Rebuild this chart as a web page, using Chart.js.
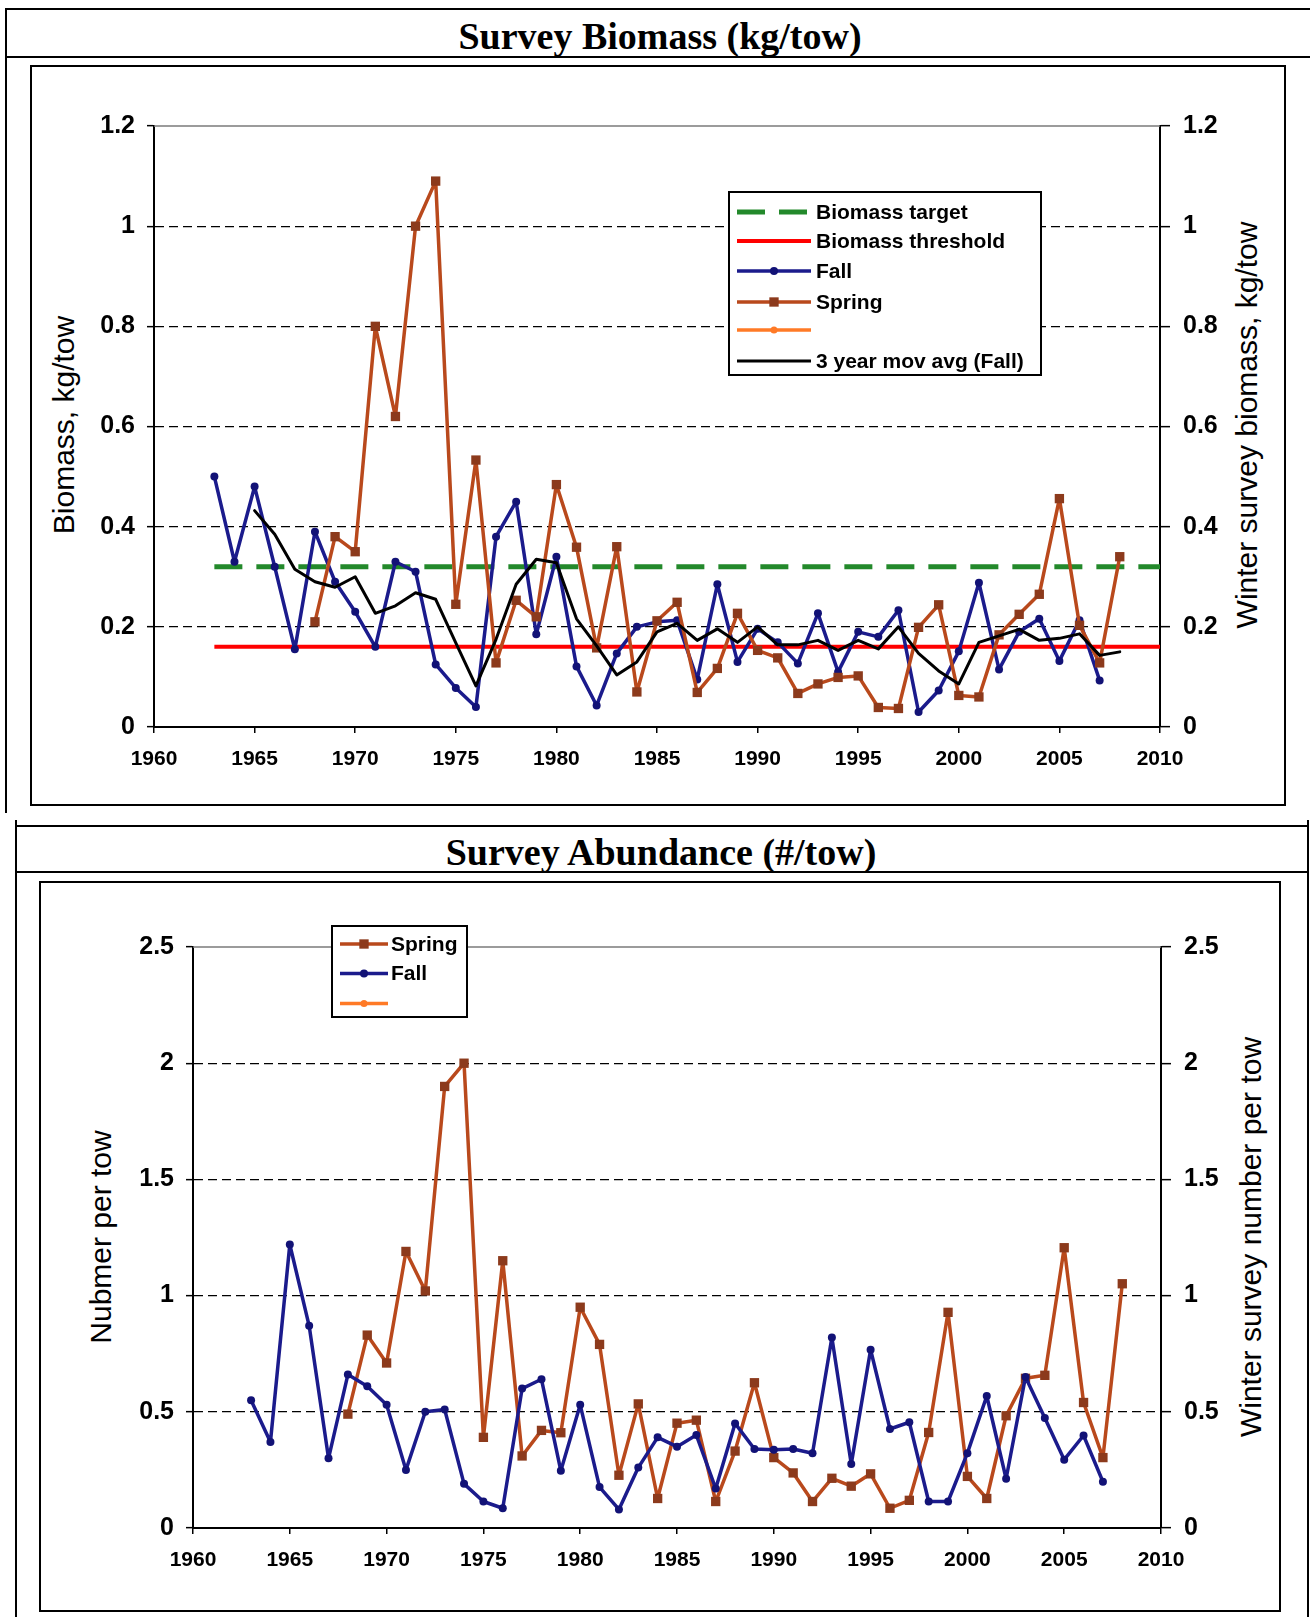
<!DOCTYPE html>
<html>
<head>
<meta charset="utf-8">
<title>Survey Biomass and Abundance</title>
<script src="https://cdn.jsdelivr.net/npm/chart.js@4.4.1/dist/chart.umd.min.js"></script>
<style>
  body { margin: 0; background: #fff; }
  #page { position: relative; width: 1310px; height: 1617px; overflow: hidden; font-family: "Liberation Sans", Arial, sans-serif; }
  .rule { position: absolute; background: #000; }
  .frame { position: absolute; border: 2px solid #000; box-sizing: border-box; }
  .title { position: absolute; font-family: "Liberation Serif", "Times New Roman", serif; font-weight: bold; font-size: 38px; white-space: nowrap; transform: translate(-50%, -50%); }
  .axis-title { position: absolute; font-size: 30px; white-space: nowrap; transform: translate(-50%, -50%) rotate(-90deg); }
  canvas { position: absolute; left: 0; }
</style>
</head>
<body>
<div id="page">
  <!-- top panel -->
  <div class="rule" style="left:5px;top:8px;width:1305px;height:2px"></div>
  <div class="rule" style="left:5px;top:8px;width:2px;height:805px"></div>
  <div class="rule" style="left:5px;top:56px;width:1305px;height:2px"></div>
  <div class="frame" style="left:30px;top:65px;width:1256px;height:741px"></div>
  <div class="title" style="left:660px;top:36px">Survey Biomass (kg/tow)</div>
  <div class="axis-title" style="left:64px;top:425px">Biomass, kg/tow</div>
  <div class="axis-title" style="left:1247px;top:425px">Winter survey biomass, kg/tow</div>

  <!-- bottom panel -->
  <div class="rule" style="left:15px;top:825px;width:1294px;height:2px"></div>
  <div class="rule" style="left:15px;top:820px;width:2px;height:797px"></div>
  <div class="rule" style="left:1307px;top:820px;width:2px;height:797px"></div>
  <div class="rule" style="left:15px;top:871px;width:1294px;height:2px"></div>
  <div class="frame" style="left:39px;top:881px;width:1242px;height:731px"></div>
  <div class="title" style="left:661px;top:852px">Survey Abundance (#/tow)</div>
  <div class="axis-title" style="left:101px;top:1237px">Nubmer per tow</div>
  <div class="axis-title" style="left:1251px;top:1237px">Winter survey number per tow</div>

  <canvas id="biomassChart" width="1310" height="820" style="top:0"></canvas>
  <canvas id="abundanceChart" width="1310" height="797" style="top:820px"></canvas>
</div>

<script>
  "use strict";

  var FONT = "'Liberation Sans', Arial, sans-serif";

  var years = [
    1963, 1964, 1965, 1966, 1967, 1968, 1969, 1970, 1971, 1972,
    1973, 1974, 1975, 1976, 1977, 1978, 1979, 1980, 1981, 1982,
    1983, 1984, 1985, 1986, 1987, 1988, 1989, 1990, 1991, 1992,
    1993, 1994, 1995, 1996, 1997, 1998, 1999, 2000, 2001, 2002,
    2003, 2004, 2005, 2006, 2007, 2008
  ];

  // Survey biomass, kg/tow
  var biomassFall = [
    0.50, 0.33, 0.48, 0.32, 0.155, 0.39, 0.29, 0.23, 0.16, 0.33,
    0.31, 0.125, 0.078, 0.04, 0.38, 0.45, 0.185, 0.34, 0.121, 0.043,
    0.147, 0.20, 0.21, 0.213, 0.095, 0.285, 0.13, 0.196, 0.169, 0.127,
    0.227, 0.11, 0.19, 0.18, 0.233, 0.03, 0.073, 0.151, 0.288, 0.115,
    0.19, 0.216, 0.132, 0.213, 0.093, null
  ];
  var biomassSpring = [
    null, null, null, null, null, 0.21, 0.38, 0.35, 0.80, 0.62,
    1.00, 1.09, 0.245, 0.533, 0.128, 0.253, 0.22, 0.484, 0.359, 0.158,
    0.36, 0.07, 0.212, 0.249, 0.069, 0.117, 0.227, 0.153, 0.138, 0.067,
    0.086, 0.099, 0.102, 0.039, 0.037, 0.199, 0.244, 0.063, 0.06, 0.184,
    0.225, 0.265, 0.456, 0.203, 0.128, 0.34
  ];
  var biomassFallAvg = [
    null, null, 0.432, 0.385, 0.315, 0.29, 0.279, 0.30, 0.227, 0.242,
    0.268, 0.255, 0.168, 0.082, 0.175, 0.285, 0.335, 0.328, 0.216, 0.162,
    0.104, 0.13, 0.19, 0.207, 0.173, 0.196, 0.169, 0.20, 0.164, 0.164,
    0.173, 0.153, 0.173, 0.156, 0.20, 0.147, 0.112, 0.086, 0.169, 0.182,
    0.195, 0.173, 0.177, 0.186, 0.143, 0.15
  ];
  var refYears = [1963, 2010];
  var biomassTarget = [0.32, 0.32];
  var biomassThreshold = [0.16, 0.16];

  // Survey abundance, number per tow
  var abundanceSpring = [
    null, null, null, null, null, 0.49, 0.83, 0.71, 1.19, 1.02,
    1.90, 2.00, 0.39, 1.15, 0.31, 0.42, 0.41, 0.95, 0.79, 0.227,
    0.534, 0.127, 0.451, 0.464, 0.114, 0.331, 0.625, 0.303, 0.237, 0.114,
    0.214, 0.18, 0.233, 0.085, 0.119, 0.411, 0.928, 0.222, 0.127, 0.483,
    0.644, 0.657, 1.206, 0.54, 0.303, 1.051
  ];
  var abundanceFall = [
    0.55, 0.37, 1.22, 0.87, 0.30, 0.66, 0.61, 0.53, 0.25, 0.50,
    0.51, 0.19, 0.114, 0.085, 0.60, 0.64, 0.246, 0.53, 0.176, 0.08,
    0.26, 0.39, 0.35, 0.40, 0.17, 0.45, 0.34, 0.337, 0.34, 0.322,
    0.82, 0.275, 0.767, 0.426, 0.455, 0.114, 0.114, 0.322, 0.568, 0.212,
    0.65, 0.473, 0.294, 0.398, 0.199, null
  ];

  var yearTicks = [1960, 1965, 1970, 1975, 1980, 1985, 1990, 1995, 2000, 2005, 2010];
  var biomassTicks = [0, 0.2, 0.4, 0.6, 0.8, 1, 1.2];
  var abundanceTicks = [0, 0.5, 1, 1.5, 2, 2.5];

  var FALL_LINE = "#1b1b8c";
  var FALL_DOT = "#121276";
  var SPRING_LINE = "#b9491c";
  var SPRING_DOT = "#8c3a1c";
  var ORANGE = "#ff7a26";

  function pairs(xs, ys) {
    return xs.map(function (x, i) {
      return { x: x, y: ys[i] };
    });
  }

  function fixedTicks(list) {
    return function (scale) {
      scale.ticks = list.map(function (v) {
        return { value: v };
      });
    };
  }

  function drawMarker(ctx, ds, x, y) {
    var r = ds.pointRadius || 0;
    if (!r) return;
    ctx.fillStyle = ds.pointBackgroundColor;
    ctx.beginPath();
    if (ds.pointStyle === "rect") {
      var s = r * Math.SQRT1_2;
      ctx.rect(x - s, y - s, 2 * s, 2 * s);
    } else {
      ctx.arc(x, y, r, 0, Math.PI * 2);
    }
    ctx.fill();
  }

  // plot-area top edge plus an Excel-style boxed legend
  var boxLegend = {
    id: "boxLegend",
    afterDraw: function (chart, args, opts) {
      var ctx = chart.ctx;
      var area = chart.chartArea;
      ctx.save();
      ctx.strokeStyle = "#7a7a7a";
      ctx.lineWidth = 1.5;
      ctx.beginPath();
      ctx.moveTo(area.left, area.top);
      ctx.lineTo(area.right, area.top);
      ctx.stroke();

      ctx.fillStyle = "#fff";
      ctx.fillRect(opts.left, opts.top, opts.width, opts.height);
      ctx.strokeStyle = "#000";
      ctx.lineWidth = 2;
      ctx.strokeRect(opts.left, opts.top, opts.width, opts.height);

      ctx.font = "bold 21px " + FONT;
      ctx.textBaseline = "middle";
      opts.rows.forEach(function (row) {
        var ds = chart.data.datasets[row.index];
        ctx.save();
        ctx.strokeStyle = ds.borderColor;
        ctx.lineWidth = ds.borderWidth;
        ctx.setLineDash(ds.borderDash || []);
        ctx.beginPath();
        ctx.moveTo(opts.lineFrom, row.y);
        ctx.lineTo(opts.lineTo, row.y);
        ctx.stroke();
        ctx.restore();
        drawMarker(ctx, ds, (opts.lineFrom + opts.lineTo) / 2, row.y);
        ctx.fillStyle = "#000";
        ctx.fillText(ds.label, opts.textX, row.y + 1);
      });
      ctx.restore();
    }
  };

  function yearAxis() {
    return {
      type: "linear",
      min: 1960,
      max: 2010,
      afterBuildTicks: fixedTicks(yearTicks),
      afterFit: function (scale) { scale.height = 45; },
      ticks: {
        autoSkip: false,
        maxRotation: 0,
        color: "#000",
        padding: 14,
        font: { family: FONT, size: 21, weight: "bold" },
        callback: function (v) { return String(v); }
      },
      grid: { drawOnChartArea: false, drawTicks: true, tickLength: 6, color: "#000", lineWidth: 1.5 },
      border: { color: "#000", width: 2 }
    };
  }

  function valueAxis(position, list, max) {
    var left = position === "left";
    return {
      type: "linear",
      position: position,
      min: 0,
      max: max,
      afterBuildTicks: fixedTicks(list),
      afterFit: function (scale) { scale.width = left ? 60 : 70; },
      ticks: {
        autoSkip: false,
        color: "#000",
        padding: left ? 12 : 13,
        font: { family: FONT, size: 25, weight: "bold" },
        callback: function (v) { return String(Math.round(v * 10) / 10); }
      },
      grid: {
        drawOnChartArea: left,
        drawTicks: true,
        tickLength: left ? 7 : 10,
        tickColor: "#000",
        tickWidth: 1.5,
        lineWidth: 1.3,
        color: function (c) {
          return c.tick && c.tick.value >= max ? "rgba(0,0,0,0)" : "#000";
        }
      },
      border: { color: "#000", width: 2, dash: [9, 5] }
    };
  }

  function lineSeries(label, data, color, width, extra) {
    var ds = {
      label: label,
      data: data,
      borderColor: color,
      borderWidth: width,
      borderJoinStyle: "round",
      borderCapStyle: "round",
      pointRadius: 0,
      pointBorderWidth: 0,
      pointHoverRadius: 0,
      fill: false,
      tension: 0
    };
    Object.keys(extra || {}).forEach(function (k) { ds[k] = extra[k]; });
    return ds;
  }

  function baseOptions(padding, legend, yMax, yTicks) {
    return {
      responsive: false,
      animation: false,
      layout: { padding: padding },
      plugins: {
        legend: { display: false },
        tooltip: { enabled: false },
        boxLegend: legend
      },
      scales: {
        x: yearAxis(),
        y: valueAxis("left", yTicks, yMax),
        y2: valueAxis("right", yTicks, yMax)
      }
    };
  }

  function initBiomassChart() {
    var ctx = document.getElementById("biomassChart").getContext("2d");
    new Chart(ctx, {
      type: "line",
      data: {
        datasets: [
          lineSeries("Biomass target", pairs(refYears, biomassTarget), "#23892b", 5, {
            borderDash: [28, 14], borderCapStyle: "butt", order: 6
          }),
          lineSeries("Biomass threshold", pairs(refYears, biomassThreshold), "#ff0000", 4, { borderCapStyle: "butt", order: 5 }),
          lineSeries("Fall", pairs(years, biomassFall), FALL_LINE, 3.5, {
            pointRadius: 4, pointBackgroundColor: FALL_DOT, pointStyle: "circle", order: 4
          }),
          lineSeries("Spring", pairs(years, biomassSpring), SPRING_LINE, 3.5, {
            pointRadius: 6.6, pointBackgroundColor: SPRING_DOT, pointStyle: "rect", order: 3
          }),
          lineSeries("", [], ORANGE, 3.5, { pointRadius: 3.5, pointBackgroundColor: ORANGE, order: 2 }),
          lineSeries("3 year mov avg (Fall)", pairs(years, biomassFallAvg), "#000", 3, { order: 1 })
        ]
      },
      options: baseOptions(
        { left: 94, right: 80, top: 126, bottom: 48 },
        {
          left: 729, top: 192, width: 312, height: 183,
          lineFrom: 737, lineTo: 811, textX: 816,
          rows: [
            { index: 0, y: 212 }, { index: 1, y: 241 }, { index: 2, y: 271 },
            { index: 3, y: 302 }, { index: 4, y: 330 }, { index: 5, y: 361 }
          ]
        },
        1.2,
        biomassTicks
      ),
      plugins: [boxLegend]
    });
  }

  function initAbundanceChart() {
    var ctx = document.getElementById("abundanceChart").getContext("2d");
    new Chart(ctx, {
      type: "line",
      data: {
        datasets: [
          lineSeries("Spring", pairs(years, abundanceSpring), SPRING_LINE, 3.5, {
            pointRadius: 6.6, pointBackgroundColor: SPRING_DOT, pointStyle: "rect", order: 3
          }),
          lineSeries("Fall", pairs(years, abundanceFall), FALL_LINE, 3.5, {
            pointRadius: 4, pointBackgroundColor: FALL_DOT, pointStyle: "circle", order: 2
          }),
          lineSeries("", [], ORANGE, 3.5, { pointRadius: 3.5, pointBackgroundColor: ORANGE, order: 1 })
        ]
      },
      options: baseOptions(
        { left: 133, right: 79, top: 127, bottom: 44 },
        {
          left: 332, top: 106, width: 135, height: 91,
          lineFrom: 340, lineTo: 388, textX: 391,
          rows: [{ index: 0, y: 124 }, { index: 1, y: 153.5 }, { index: 2, y: 183.5 }]
        },
        2.5,
        abundanceTicks
      ),
      plugins: [boxLegend]
    });
  }

  initBiomassChart();
  initAbundanceChart();
</script>
</body>
</html>
